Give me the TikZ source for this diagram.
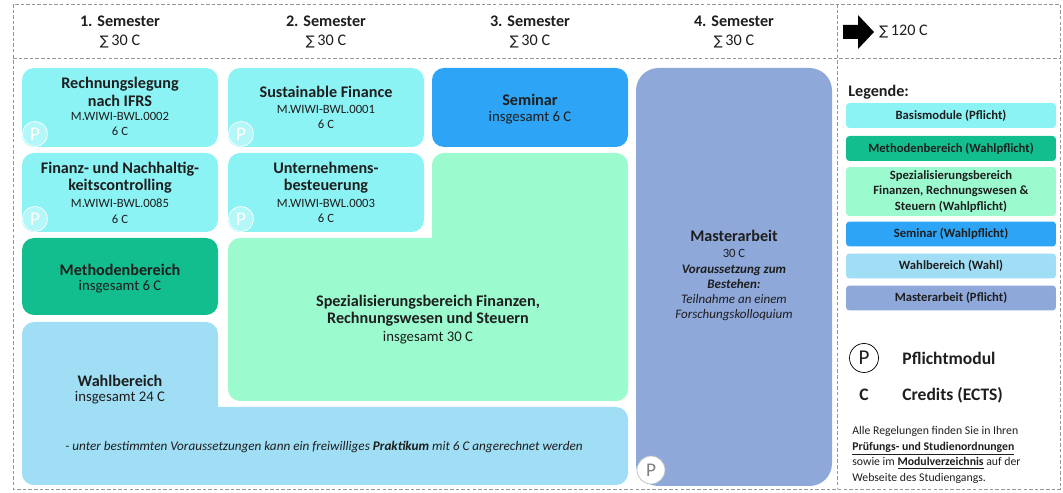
\documentclass[tikz,border=0pt]{standalone}
\usepackage{fontspec}
\setmainfont{Carlito}
\newfontfamily\symfont{DejaVu Sans}
\usepackage{tikz}
\usetikzlibrary{positioning}

\definecolor{basis}{RGB}{140,243,245}
\definecolor{methode}{RGB}{18,190,142}
\definecolor{spez}{RGB}{155,250,206}
\definecolor{seminar}{RGB}{45,164,245}
\definecolor{wahl}{RGB}{160,222,245}
\definecolor{master}{RGB}{142,168,218}
\definecolor{ink}{RGB}{30,30,30}
\definecolor{frame}{RGB}{150,150,150}

\newcommand{\sumc}{{\symfont\fontsize{7.5}{7.5}\selectfont ∑}}

\tikzset{
  modbox/.style={rounded corners=0.24cm},
  sem/.style={align=center, inner sep=0pt, text=ink, font=\fontsize{9.2}{11.3}\selectfont},
  mtitle/.style={align=center, inner sep=0pt, text=ink, font=\fontsize{9.2}{9.8}\selectfont\bfseries},
  mcode/.style={align=center, inner sep=0pt, text=ink, font=\fontsize{7.2}{8.9}\selectfont},
  msub/.style={align=center, inner sep=0pt, text=ink, font=\fontsize{8.4}{9}\selectfont},
  pmark/.style={circle, draw=white, fill=white, fill opacity=0.35, text opacity=1, text=white,
    inner sep=0pt, minimum size=0.5cm, font=\fontsize{11}{11}\selectfont},
  legbox/.style={rounded corners=2pt, minimum width=4.2cm, minimum height=0.5cm, align=center,
    inner sep=1pt, text=ink, font=\fontsize{7.2}{8.8}\selectfont\bfseries},
  legtext/.style={anchor=west, inner sep=0pt, text=ink, font=\fontsize{10}{11}\selectfont\bfseries}
}

\begin{document}
\begin{tikzpicture}[x=0.02cm, y=-0.02cm]
      \useasboundingbox (0,0) rectangle (1063,493);
      \draw [frame, dashed, dash pattern=on 2pt off 1.2pt] (13,4) rectangle (1060,489);
      \draw [frame, dashed, dash pattern=on 2pt off 1.2pt] (13,58) -- (1060,58);
      \draw [frame, dashed, dash pattern=on 2pt off 1.2pt] (837,4) -- (837,489);

      \node (s1) at (120,32) [sem] {\textbf{1. Semester}\\\sumc\,30 C};
      \node (s2) at (326,32) [sem] {\textbf{2. Semester}\\\sumc\,30 C};
      \node (s3) at (530,32) [sem] {\textbf{3. Semester}\\\sumc\,30 C};
      \node (s4) at (734,32) [sem] {\textbf{4. Semester}\\\sumc\,30 C};
      \fill [black] (843,25) -- (858,25) -- (858,15) -- (874,32) -- (858,49) -- (858,39) -- (843,39) -- cycle;
      \node (total) at (879,32) [sem, anchor=west] {\sumc\,120 C};

      \fill [basis, modbox] (22,68) rectangle (218,147);
      \fill [basis, modbox] (228,68) rectangle (424,147);
      \fill [seminar, modbox] (432,68) rectangle (628,147);
      \fill [basis, modbox] (22,153) rectangle (218,232);
      \fill [basis, modbox] (228,153) rectangle (424,232);
      \fill [methode, modbox] (22,238) rectangle (218,315);
      \fill [spez, modbox] (432,153) rectangle (628,401);
      \fill [spez, modbox] (228,238) rectangle (628,401);
      \fill [wahl, modbox] (22,322) rectangle (218,485);
      \fill [wahl, modbox] (22,407) rectangle (628,485);
      \fill [master, rounded corners=0.45cm] (636,68) rectangle (832,486);

      \node (rechT) at (120,92) [mtitle] {Rechnungslegung\\nach IFRS};
      \node (rechC) at (120,124) [mcode] {M.WIWI-BWL.0002\\6 C};
      \node (rechP) at (35,134) [pmark] {P};
      \node (susT) at (326,92) [mtitle] {Sustainable Finance};
      \node (susC) at (326,117) [mcode] {M.WIWI-BWL.0001\\6 C};
      \node (susP) at (241,134) [pmark] {P};
      \node (semT) at (530,100) [mtitle] {Seminar};
      \node (semC) at (530,118) [msub] {insgesamt 6 C};
      \node (finT) at (120,178) [mtitle] {Finanz- und Nachhaltig-\\keitscontrolling};
      \node (finC) at (120,211) [mcode] {M.WIWI-BWL.0085\\6 C};
      \node (finP) at (35,219) [pmark] {P};
      \node (untT) at (326,178) [mtitle] {Unternehmens-\\besteuerung};
      \node (untC) at (326,211) [mcode] {M.WIWI-BWL.0003\\6 C};
      \node (untP) at (241,219) [pmark] {P};
      \node (metT) at (120,270) [mtitle] {Methodenbereich};
      \node (metC) at (120,287) [msub] {insgesamt 6 C};
      \node (spzT) at (428,311) [mtitle] {Spezialisierungsbereich Finanzen,\\Rechnungswesen und Steuern};
      \node (spzC) at (428,338) [msub] {insgesamt 30 C};
      \node (wahT) at (120,381) [mtitle] {Wahlbereich};
      \node (wahC) at (120,398) [msub] {insgesamt 24 C};
      \node (wahN) at (324,447) [mcode, font=\fontsize{7.5}{8}\selectfont\itshape]
        {- unter bestimmten Voraussetzungen kann ein freiwilliges \textbf{Praktikum} mit 6 C angerechnet werden};
      \node (masT) at (734,236) [mtitle] {Masterarbeit};
      \node (masC) at (734,253) [mcode] {30 C};
      \node (masN) at (734,293) [mcode, font=\fontsize{7.4}{8.6}\selectfont]
        {\textbf{\textit{Voraussetzung zum}}\\\textbf{\textit{Bestehen:}}\\\textit{Teilnahme an einem}\\\textit{Forschungskolloquium}};
      \node (masP) at (651,470) [pmark, draw=gray!50, fill opacity=1, text=gray, minimum size=0.56cm] {P};

      \node (leg) at (848,92) [legtext, font=\fontsize{9.2}{10}\selectfont\bfseries] {Legende:};
      \node (lbas) at (951,115.5) [legbox, fill=basis] {Basismodule (Pflicht)};
      \node (lmet) at (951,148.5) [legbox, fill=methode] {Methodenbereich (Wahlpflicht)};
      \node (lspz) at (951,191.5) [legbox, fill=spez, minimum height=0.98cm]
        {Spezialisierungsbereich\\Finanzen, Rechnungswesen \&\\Steuern (Wahlpflicht)};
      \node (lsem) at (951,234) [legbox, fill=seminar] {Seminar (Wahlpflicht)};
      \node (lwah) at (951,266) [legbox, fill=wahl] {Wahlbereich (Wahl)};
      \node (lmas) at (951,298) [legbox, fill=master] {Masterarbeit (Pflicht)};

      \node (lp) at (864,358) [circle, draw=black, inner sep=0pt, minimum size=0.58cm, text=ink,
        font=\fontsize{12}{12}\selectfont] {P};
      \node (lpT) at (902,358) [legtext] {Pflichtmodul};
      \node (lc) at (864,395) [text=ink, inner sep=0pt, font=\fontsize{10}{11}\selectfont\bfseries] {C};
      \node (lcT) at (902,395) [legtext] {Credits (ECTS)};
      \node (info) at (852,455) [anchor=west, align=left, inner sep=0pt, text=ink,
        font=\fontsize{6.7}{8.8}\selectfont]
        {Alle Regelungen finden Sie in Ihren\\\underline{\textbf{Prüfungs- und Studienordnungen}}\\
         sowie im \underline{\textbf{Modulverzeichnis}} auf der\\Webseite des Studiengangs.};
    \end{tikzpicture}
\end{document}
